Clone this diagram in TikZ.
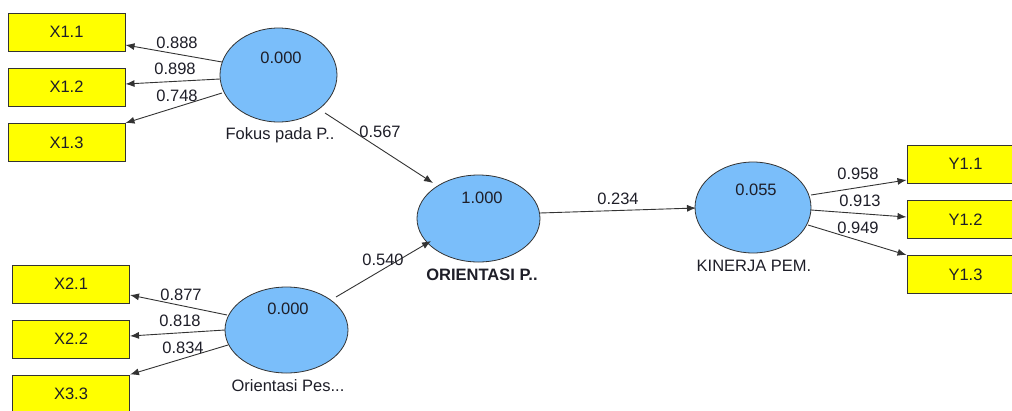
\documentclass[tikz,border=0pt]{standalone}
\usepackage{fontspec}
\setmainfont{Liberation Sans}
\usetikzlibrary{arrows.meta,shapes.geometric}
\definecolor{boxyellow}{RGB}{255,255,0}
\definecolor{latentblue}{RGB}{122,190,250}
\definecolor{txt}{RGB}{30,30,40}
\begin{document}
\begin{tikzpicture}[x=1pt,y=-1pt,
  every node/.style={inner sep=0pt, text=txt, font=\fontsize{16.5}{18}\selectfont},
  indicator/.style={draw=black!80, line width=1pt, fill=boxyellow, minimum width=117pt, minimum height=38pt},
  latent/.style={draw=black!80, line width=0.8pt, fill=latentblue, ellipse, inner sep=0pt},
  conn/.style={draw=black!80, line width=0.9pt, -{Latex[length=9pt,width=7pt]}},
  lbl/.style={font=\fontsize{16.5}{18}\selectfont}
]
\useasboundingbox (0,0) rectangle (1012,410);
\clip (0,0) rectangle (1012,410);
% latent variables
\node[latent, minimum width=117pt, minimum height=94pt] (F) at (278.5,75) {};
\node[latent, minimum width=123pt, minimum height=86pt] (O) at (286.5,330) {};
\node[latent, minimum width=123pt, minimum height=87pt] (M) at (478.5,218.5) {};
\node[latent, minimum width=116pt, minimum height=91pt] (K) at (753,207.5) {};

\node (Fv) at (281,58) {0.000};
\node (Ov) at (288,309) {0.000};
\node (Mv) at (482,198) {1.000};
\node (Kv) at (756,190) {0.055};
\node (Fl) at (280,135) {Fokus pada P..};
\node (Ol) at (288,386) {Orientasi Pes...};
\node[font=\bfseries\fontsize{16.5}{18}\selectfont] (Ml) at (482,275) {ORIENTASI P..};
\node (Kl) at (754,266) {KINERJA PEM.};

% indicators
\node[indicator] (x11) at (66.5,32) {X1.1};
\node[indicator] (x12) at (66.5,87) {X1.2};
\node[indicator] (x13) at (66.5,142.5) {X1.3};
\node[indicator] (x21) at (71,284) {X2.1};
\node[indicator] (x22) at (71,339) {X2.2};
\node[indicator] (x33) at (71,394) {X3.3};
\node[indicator] (y11) at (965.5,164) {Y1.1};
\node[indicator] (y12) at (965.5,219.5) {Y1.2};
\node[indicator] (y13) at (965.5,274.5) {Y1.3};

% connector end points on the ellipses
\coordinate (f1) at (222,62);
\coordinate (f2) at (220,79);
\coordinate (f3) at (222,93);
\coordinate (f4) at (325,113);
\coordinate (o1) at (227,315);
\coordinate (o2) at (225,330);
\coordinate (o3) at (228,345);
\coordinate (o4) at (336,297);
\coordinate (m1) at (433,183);
\coordinate (m2) at (431,241);
\coordinate (m3) at (540,213);
\coordinate (k1) at (696,208);
\coordinate (k2) at (811,195);
\coordinate (k3) at (811,210);
\coordinate (k4) at (808,225);

\draw[conn] (f1) -- (x11.east |- 0,45);
\draw[conn] (f2) -- (x12.east |- 0,84);
\draw[conn] (f3) -- (x13.north east);
\draw[conn] (o1) -- (x21.east |- 0,295);
\draw[conn] (o2) -- (x22.east |- 0,336);
\draw[conn] (o3) -- (x33.north east);
\draw[conn] (f4) -- (m1);
\draw[conn] (o4) -- (m2);
\draw[conn] (m3) -- (k1);
\draw[conn] (k2) -- (y11.west |- 0,180);
\draw[conn] (k3) -- (y12.west |- 0,217);
\draw[conn] (k4) -- (y13.north west);

\node[lbl] (l1) at (177,43) {0.888};
\node[lbl] (l2) at (175,69) {0.898};
\node[lbl] (l3) at (177,96) {0.748};
\node[lbl] (l4) at (181,295) {0.877};
\node[lbl] (l5) at (180,321) {0.818};
\node[lbl] (l6) at (183,348) {0.834};
\node[lbl] (l7) at (380,132) {0.567};
\node[lbl] (l8) at (383,260) {0.540};
\node[lbl] (l9) at (618,199) {0.234};
\node[lbl] (l10) at (858,174) {0.958};
\node[lbl] (l11) at (860,201) {0.913};
\node[lbl] (l12) at (858,228) {0.949};
\end{tikzpicture}
\end{document}
